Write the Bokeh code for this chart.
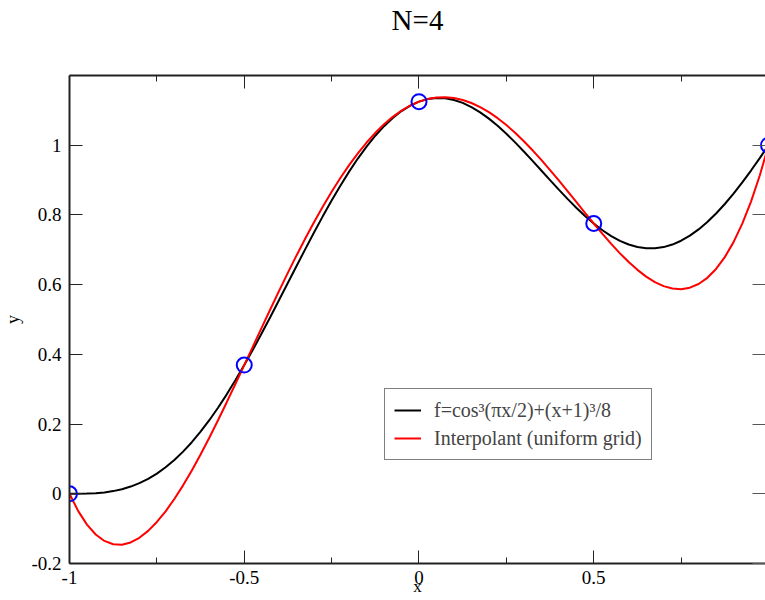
from bokeh.plotting import figure
from bokeh.models import Range1d, FixedTicker, LinearAxis, CustomJSTickFormatter, Title
from bokeh.embed import file_html
from bokeh.resources import INLINE

# ---- data ----
xs = [-1.000, -0.975, -0.950, -0.925, -0.900, -0.875, -0.850, -0.825, -0.800, -0.775,
      -0.750, -0.725, -0.700, -0.675, -0.650, -0.625, -0.600, -0.575, -0.550, -0.525,
      -0.500, -0.475, -0.450, -0.425, -0.400, -0.375, -0.350, -0.325, -0.300, -0.275,
      -0.250, -0.225, -0.200, -0.175, -0.150, -0.125, -0.100, -0.075, -0.050, -0.025,
      0.000, 0.025, 0.050, 0.075, 0.100, 0.125, 0.150, 0.175, 0.200, 0.225,
      0.250, 0.275, 0.300, 0.325, 0.350, 0.375, 0.400, 0.425, 0.450, 0.475,
      0.500, 0.525, 0.550, 0.575, 0.600, 0.625, 0.650, 0.675, 0.700, 0.725,
      0.750, 0.775, 0.800, 0.825, 0.850, 0.875, 0.900, 0.925, 0.950, 0.975, 1.000]

f_vals = [0.000000, 0.000062, 0.000499, 0.001677, 0.003953, 0.007669, 0.013144, 0.020670, 0.030509, 0.042888,
          0.057996, 0.075981, 0.096945, 0.120950, 0.148004, 0.178073, 0.211075, 0.246881, 0.285317, 0.326168,
          0.369178, 0.414057, 0.460477, 0.508087, 0.556508, 0.605348, 0.654193, 0.702630, 0.750239, 0.796602,
          0.841315, 0.883984, 0.924240, 0.961730, 0.996145, 1.027195, 1.054642, 1.078283, 1.097951, 1.113546,
          1.125000, 1.132300, 1.135482, 1.134638, 1.129892, 1.121434, 1.109488, 1.094320, 1.076240, 1.055581,
          1.032722, 1.008051, 0.981989, 0.954962, 0.927412, 0.899781, 0.872508, 0.846028, 0.820758, 0.797100,
          0.775428, 0.756094, 0.739410, 0.725658, 0.715075, 0.707858, 0.704161, 0.704087, 0.707695, 0.715000,
          0.725965, 0.740509, 0.758509, 0.779799, 0.804175, 0.831400, 0.861203, 0.893290, 0.927342, 0.963028, 1.000000]

interp_vals = [0.000000, -0.049865, -0.088537, -0.116764, -0.135278, -0.144793, -0.145998, -0.139567, -0.126153, -0.106387,
               -0.080884, -0.050233, -0.015009, 0.024234, 0.066963, 0.112665, 0.160846, 0.211033, 0.262769, 0.315623,
               0.369178, 0.423042, 0.476837, 0.530211, 0.582827, 0.634370, 0.684546, 0.733076, 0.779707, 0.824201,
               0.866345, 0.905939, 0.942808, 0.976795, 1.007762, 1.035594, 1.060192, 1.081480, 1.099399, 1.113912,
               1.125000, 1.132666, 1.136931, 1.137836, 1.135442, 1.129832, 1.121106, 1.109385, 1.094808, 1.077537,
               1.057751, 1.035651, 1.011457, 0.985408, 0.957764, 0.928804, 0.898827, 0.868153, 0.837119, 0.806084,
               0.775428, 0.745549, 0.716863, 0.689811, 0.664846, 0.642451, 0.623119, 0.607370, 0.595741, 0.588787,
               0.587084, 0.591235, 0.601847, 0.619561, 0.645034, 0.678937, 0.721972, 0.774850, 0.838307, 0.913099, 1.000000]

nodes_x = [-1.0, -0.5, 0.0, 0.5, 1.0]
nodes_y = [0.0, 0.369178, 1.125, 0.775428, 1.0]

x_ticks = [-1.0, -0.5, 0.0, 0.5, 1.0]
x_minor_ticks = [-0.75, -0.25, 0.25, 0.75]
x_tick_labels = ["-1", "-0.5", "0", "0.5", "1"]
y_ticks = [-0.2, 0.0, 0.2, 0.4, 0.6, 0.8, 1.0]
y_tick_labels = ["-0.2", "0", "0.2", "0.4", "0.6", "0.8", "1"]

title_text = "N=4"
x_label = "x"
y_label = "y"
legend_f = "f=cos\u00b3(\u03c0x/2)+(x+1)\u00b3/8"
legend_p = "Interpolant (uniform grid)"

FONT = "Liberation Serif"
AXC = "#222222"

p = figure(width=765, height=600,
           x_range=Range1d(-1.0, 0.99143), y_range=Range1d(-0.2, 1.2),
           output_backend="svg", toolbar_location=None,
           min_border_left=68, min_border_right=0,
           min_border_top=75, min_border_bottom=37)
p.outline_line_color = None
p.xgrid.visible = False
p.ygrid.visible = False
p.background_fill_color = "white"
p.border_fill_color = "white"

p.title.text = title_text
p.title.text_font = FONT
p.title.text_font_size = "29px"
p.title.text_font_style = "normal"
p.title.text_color = "black"
p.title.align = "center"
p.title.standoff = 0

# bottom axis
xa = p.xaxis[0]
xa.ticker = FixedTicker(ticks=x_ticks, minor_ticks=x_minor_ticks)
xa.major_label_overrides = dict(zip(x_ticks, x_tick_labels))
xa.axis_label = x_label
xa.axis_label_standoff = -10
xa.axis_label_text_font_size = "17px"
# left axis
ya = p.yaxis[0]
ya.ticker = FixedTicker(ticks=y_ticks, minor_ticks=[])
ya.major_label_overrides = dict(zip(y_ticks, y_tick_labels))
ya.axis_label = y_label
ya.axis_label_standoff = 5
ya.axis_label_text_font_size = "18px"

for ax in (xa, ya):
    ax.axis_label_text_font = FONT
    ax.axis_label_text_font_style = "normal"
    ax.axis_label_text_color = "black"

top = LinearAxis(ticker=FixedTicker(ticks=x_ticks, minor_ticks=x_minor_ticks),
                 formatter=CustomJSTickFormatter(code="return ''"),
                 major_label_standoff=0)
p.add_layout(top, "above")
# blank spacer between the top axis and the title
p.add_layout(Title(text=" ", text_font=FONT, text_font_size="20px", standoff=16), "above")

right = LinearAxis(ticker=FixedTicker(ticks=y_ticks, minor_ticks=[]),
                   formatter=CustomJSTickFormatter(code="return ''"),
                   major_label_standoff=0)
p.add_layout(right, "right")

for ax in (xa, ya, top, right):
    ax.axis_line_color = AXC
    ax.axis_line_width = 2
    ax.major_tick_in = 13
    ax.major_tick_out = 0
    ax.minor_tick_in = 6
    ax.minor_tick_out = 0
    ax.major_tick_line_color = AXC
    ax.minor_tick_line_color = AXC
    ax.major_tick_line_width = 1
    ax.minor_tick_line_width = 1
    ax.major_label_text_font = FONT
    ax.major_label_text_color = "black"
    ax.major_label_text_font_size = "19px"
xa.major_label_standoff = 7
ya.major_label_standoff = 8
right.axis_line_color = None
right.major_tick_line_color = "#555555"

# curves
p.line(xs, f_vals, line_color="black", line_width=2, legend_label=legend_f)
p.line(xs, interp_vals, line_color="red", line_width=2, legend_label=legend_p)
p.scatter(nodes_x, nodes_y, marker="circle", size=15, fill_color=None,
          line_color="blue", line_width=2)

# legend
lg = p.legend[0]
lg.location = (315, 103)
lg.border_line_color = "black"
lg.border_line_width = 1.5
lg.background_fill_color = "white"
lg.background_fill_alpha = 1.0
lg.label_text_font = FONT
lg.label_text_font_size = "20px"
lg.glyph_width = 27
lg.glyph_height = 24
lg.label_height = 24
lg.spacing = 4
lg.padding = 9
lg.margin = 0
lg.label_standoff = 13

open("out.html", "w").write(file_html(p, INLINE))
